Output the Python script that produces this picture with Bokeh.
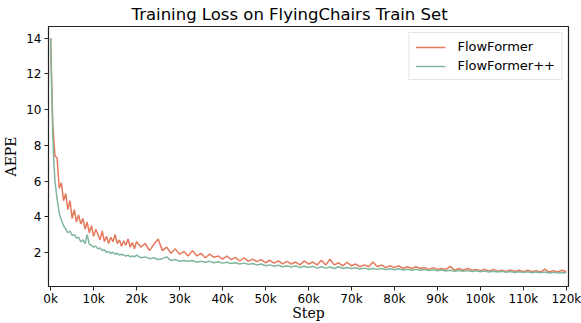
from bokeh.plotting import figure
from bokeh.models import Range1d, FixedTicker, Legend, LegendItem
from bokeh.embed import file_html
from bokeh.resources import INLINE

# training step in thousands
steps_k = [0, 0.25, 0.5, 0.75, 1, 1.5, 2, 2.5, 3, 3.5, 4, 4.5, 5, 5.5, 6, 6.5, 7, 7.5, 8, 8.5,
           9, 9.5, 10, 10.5, 11, 11.5, 12, 12.5, 13, 13.5, 14, 14.5, 15, 15.5, 16, 16.5, 17, 17.5,
           18, 18.5, 19, 19.5, 20,
           21, 22, 23, 24, 25, 26, 27, 28, 29, 30, 31, 32, 33, 34, 35, 36, 37, 38, 39, 40,
           41, 42, 43, 44, 45, 46, 47, 48, 49, 50, 51, 52, 53, 54, 55, 56, 57, 58, 59, 60,
           61, 62, 63, 64, 65, 66, 67, 68, 69, 70, 71, 72, 73, 74, 75, 76, 77, 78, 79, 80,
           81, 82, 83, 84, 85, 86, 87, 88, 89, 90, 91, 92, 93, 94, 95, 96, 97, 98, 99, 100,
           101, 102, 103, 104, 105, 106, 107, 108, 109, 110, 111, 112, 113, 114, 115, 116, 117, 118, 119, 120]

flowformer = [14.0, 11.5, 9.2, 8.3, 7.4, 7.3, 5.6, 5.9, 4.9, 5.3, 4.4, 4.9, 3.9, 4.4, 3.7, 4.1, 3.6, 3.9, 3.3, 3.7,
              3.1, 3.5, 2.9, 3.3, 3.0, 2.7, 3.2, 2.6, 2.9, 2.5, 2.85, 2.6, 3.0, 2.5, 2.7, 2.35, 2.65, 2.4,
              2.75, 2.3, 2.55, 2.2, 2.6,
              2.3, 2.5, 2.1, 2.45, 2.75, 2.1, 2.3, 1.95, 2.2, 1.9, 2.05, 1.8, 2.1, 1.8, 1.95, 1.7, 1.9, 1.72, 1.8, 1.62,
              1.8, 1.6, 1.72, 1.52, 1.7, 1.5, 1.62, 1.48, 1.6, 1.42, 1.56, 1.4, 1.52, 1.36, 1.5, 1.35, 1.46, 1.3, 1.52, 1.35,
              1.46, 1.3, 1.56, 1.3, 1.62, 1.3, 1.42, 1.25, 1.45, 1.25, 1.35, 1.2, 1.3, 1.2, 1.46, 1.2, 1.3, 1.15, 1.25, 1.15,
              1.25, 1.1, 1.2, 1.1, 1.2, 1.1, 1.15, 1.05, 1.15, 1.05, 1.1, 1.05, 1.22, 1.0, 1.1, 1.0, 1.1, 1.0, 1.05, 0.98,
              1.05, 0.95, 1.05, 0.95, 1.0, 0.93, 1.02, 0.93, 1.0, 0.92, 1.0, 0.92, 0.98, 0.9, 1.06, 0.9, 0.98, 0.9, 1.0, 0.92]

flowformer_pp = [14.0, 11.0, 8.5, 7.0, 6.0, 5.0, 4.2, 3.8, 3.5, 3.3, 3.1, 3.2, 2.95, 3.0, 2.8, 2.85, 2.6, 2.7, 2.5, 3.0,
                 2.45, 2.4, 2.3, 2.35, 2.2, 2.25, 2.1, 2.15, 2.0, 2.05, 1.95, 2.0, 1.9, 1.95, 1.85, 1.9, 1.85, 1.8,
                 1.85, 1.75, 1.8, 1.75, 1.85,
                 1.7, 1.75, 1.65, 1.7, 1.6, 1.65, 1.75, 1.55, 1.6, 1.5, 1.55, 1.5, 1.55, 1.45, 1.5, 1.45, 1.5, 1.42, 1.48, 1.4,
                 1.45, 1.38, 1.42, 1.35, 1.4, 1.33, 1.38, 1.3, 1.35, 1.25, 1.3, 1.22, 1.28, 1.2, 1.25, 1.18, 1.25, 1.15, 1.22, 1.15,
                 1.22, 1.12, 1.2, 1.12, 1.18, 1.1, 1.2, 1.1, 1.15, 1.1, 1.14, 1.07, 1.12, 1.06, 1.1, 1.05, 1.1, 1.04, 1.08, 1.03,
                 1.08, 1.02, 1.06, 1.0, 1.05, 1.0, 1.04, 0.98, 1.03, 0.97, 1.02, 0.96, 1.0, 0.95, 0.99, 0.94, 0.98, 0.93, 0.97, 0.92,
                 0.96, 0.9, 0.95, 0.9, 0.94, 0.89, 0.93, 0.88, 0.92, 0.87, 0.92, 0.86, 0.9, 0.86, 0.9, 0.85, 0.89, 0.85, 0.88, 0.86]

x_ticks = [0, 10, 20, 30, 40, 50, 60, 70, 80, 90, 100, 110, 120]
x_tick_labels = ["0k", "10k", "20k", "30k", "40k", "50k", "60k", "70k", "80k", "90k", "100k", "110k", "120k"]
y_ticks = [2, 4, 6, 8, 10, 12, 14]

ORANGE = "#e4795b"
GREEN = "#80b69b"

p = figure(width=581, height=323, output_backend="svg", toolbar_location=None,
           x_range=Range1d(-0.5, 120.5), y_range=Range1d(0.09, 14.66),
           min_border_left=0, min_border_right=13, min_border_top=0, min_border_bottom=0)

p.title.text = "Training Loss on FlyingChairs Train Set"
p.title.align = "left"
p.title.offset = 83
p.title.text_font = "DejaVu Sans"
p.title.text_font_size = "16.5px"
p.title.text_font_style = "normal"
p.title.text_color = "#000000"
p.title.standoff = 5

r1 = p.line(steps_k, flowformer, line_color=ORANGE, line_width=1.5)
r2 = p.line(steps_k, flowformer_pp, line_color=GREEN, line_width=1.5)

p.xgrid.visible = False
p.ygrid.visible = False
p.outline_line_color = "#222222"
p.outline_line_width = 1.2

p.xaxis.ticker = FixedTicker(ticks=x_ticks)
p.xaxis.major_label_overrides = {t: l for t, l in zip(x_ticks, x_tick_labels)}
p.yaxis.ticker = FixedTicker(ticks=y_ticks)
for ax in (p.xaxis, p.yaxis):
    ax.axis_line_color = None
    ax.minor_tick_line_color = None
    ax.major_tick_line_color = "#222222"
    ax.major_tick_out = 4
    ax.major_tick_in = 0
    ax.major_label_text_font = "DejaVu Sans"
    ax.major_label_text_font_size = "12px"
    ax.major_label_text_color = "#000000"
    ax.axis_label_text_font = "DejaVu Serif"
    ax.axis_label_text_font_size = "14px"
    ax.axis_label_text_font_style = "normal"
    ax.axis_label_text_color = "#000000"
p.xaxis.axis_label = "Step"
p.yaxis.axis_label = "AEPE"
p.xaxis.major_label_standoff = 1
p.yaxis.major_label_standoff = 3
p.xaxis.axis_label_standoff = -4
p.yaxis.axis_label_standoff = 4

legend = Legend(items=[LegendItem(label="FlowFormer", renderers=[r1]),
                       LegendItem(label="FlowFormer++", renderers=[r2])],
                location="top_right")
legend.label_text_font = "DejaVu Sans"
legend.label_text_font_size = "13px"
legend.label_text_color = "#000000"
legend.border_line_color = "#cccccc"
legend.border_line_width = 1
legend.background_fill_alpha = 0.9
legend.glyph_width = 30
legend.glyph_height = 12
legend.label_height = 12
legend.spacing = 4
legend.padding = 6
legend.margin = 6
legend.label_standoff = 12
p.add_layout(legend)

open("out.html", "w").write(file_html(p, INLINE))
